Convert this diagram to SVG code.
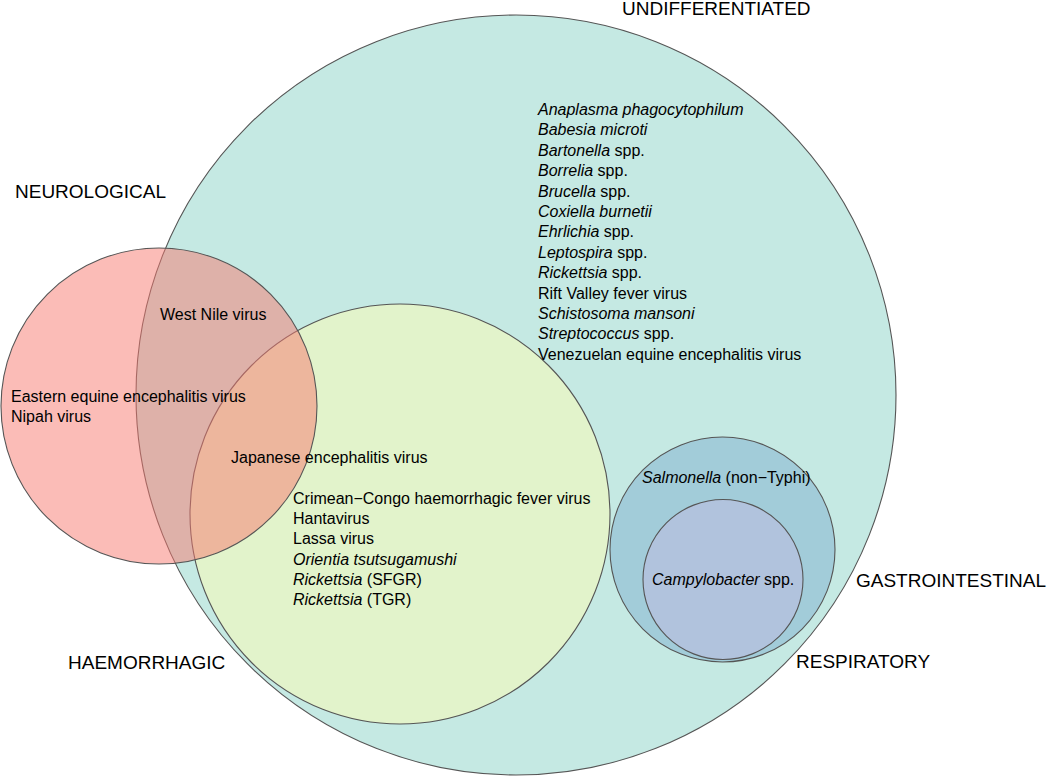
<svg xmlns="http://www.w3.org/2000/svg" width="1050" height="776" viewBox="0 0 1050 776">
<style>
text { font-family: "Liberation Sans", Arial, sans-serif; font-size: 16px; fill: #000; }
.lab { font-size: 19px; }
.i { font-style: italic; }
circle { stroke: #555; stroke-width: 1.1; }
</style>
<rect width="1050" height="776" fill="#fff"/>
<g id="undifferentiated">
<circle cx="516" cy="395" r="380" fill="#c5e9e3"/>
</g>
<g id="haemorrhagic">
<circle cx="400" cy="514" r="210" fill="#fffdb3" fill-opacity="0.5"/>
</g>
<g id="neurological">
<circle cx="159" cy="406" r="158" fill="#f7796f" fill-opacity="0.5"/>
</g>
<g id="gastrointestinal">
<circle cx="722.5" cy="549.5" r="112.5" fill="#7fafcf" fill-opacity="0.5"/>
</g>
<g id="respiratory">
<circle cx="723" cy="579.5" r="80" fill="#c0bae1" fill-opacity="0.5"/>
</g>
<g id="connectors"></g>
<g id="labels">
<text class="lab" x="622" y="15">UNDIFFERENTIATED</text>
<text class="lab" x="15" y="198">NEUROLOGICAL</text>
<text class="lab" x="68" y="669">HAEMORRHAGIC</text>
<text class="lab" x="856" y="587">GASTROINTESTINAL</text>
<text class="lab" x="796" y="668">RESPIRATORY</text>
</g>
<g id="undiff-list">
<text x="538" y="115"><tspan class="i">Anaplasma phagocytophilum</tspan></text>
<text x="538" y="135.4"><tspan class="i">Babesia microti</tspan></text>
<text x="538" y="155.8"><tspan class="i">Bartonella</tspan> spp.</text>
<text x="538" y="176.2"><tspan class="i">Borrelia</tspan> spp.</text>
<text x="538" y="196.6"><tspan class="i">Brucella</tspan> spp.</text>
<text x="538" y="217"><tspan class="i">Coxiella burnetii</tspan></text>
<text x="538" y="237.4"><tspan class="i">Ehrlichia</tspan> spp.</text>
<text x="538" y="257.8"><tspan class="i">Leptospira</tspan> spp.</text>
<text x="538" y="278.2"><tspan class="i">Rickettsia</tspan> spp.</text>
<text x="538" y="298.6">Rift Valley fever virus</text>
<text x="538" y="319"><tspan class="i">Schistosoma mansoni</tspan></text>
<text x="538" y="339.4"><tspan class="i">Streptococcus</tspan> spp.</text>
<text x="538" y="359.8">Venezuelan equine encephalitis virus</text>
</g>
<g id="neuro-list">
<text x="160" y="320">West Nile virus</text>
<text x="11" y="402">Eastern equine encephalitis virus</text>
<text x="11" y="422">Nipah virus</text>
<text x="231" y="463">Japanese encephalitis virus</text>
</g>
<g id="haem-list">
<text x="293" y="504">Crimean−Congo haemorrhagic fever virus</text>
<text x="293" y="524.2">Hantavirus</text>
<text x="293" y="544.4">Lassa virus</text>
<text x="293" y="564.6"><tspan class="i">Orientia tsutsugamushi</tspan></text>
<text x="293" y="584.8"><tspan class="i">Rickettsia</tspan> (SFGR)</text>
<text x="293" y="605"><tspan class="i">Rickettsia</tspan> (TGR)</text>
</g>
<g id="gi-list">
<text x="642" y="483"><tspan class="i">Salmonella</tspan> (non−Typhi)</text>
<text x="652" y="585"><tspan class="i">Campylobacter</tspan> spp.</text>
</g>
</svg>
